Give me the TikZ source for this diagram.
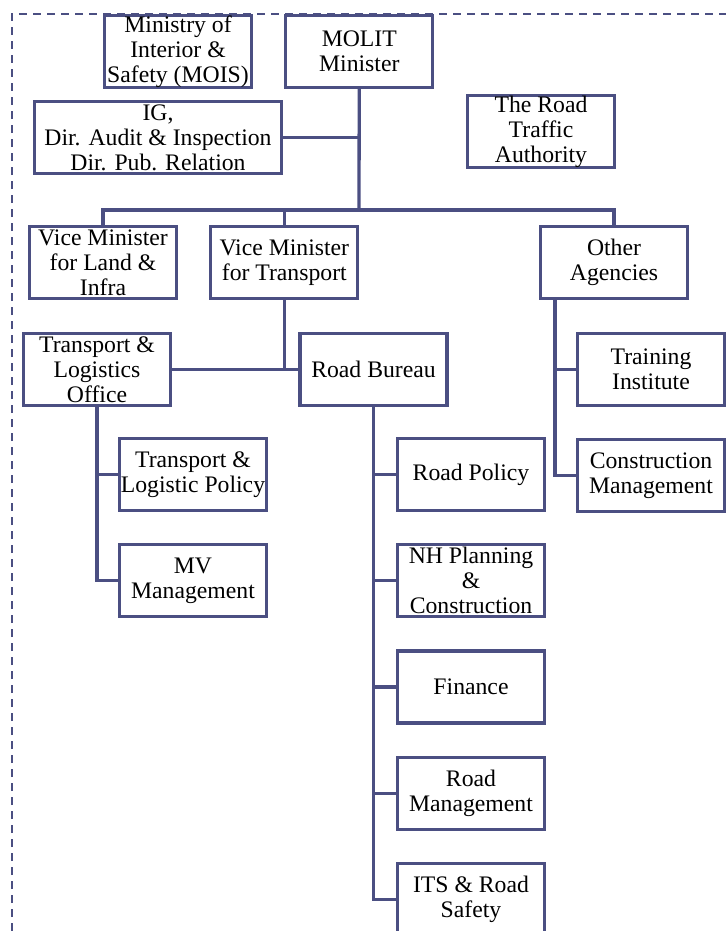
\documentclass[tikz,border=0pt]{standalone}
\usepackage{fontspec}
\setmainfont{Liberation Serif}
\usetikzlibrary{positioning}
\definecolor{orgblue}{RGB}{75,79,130}

\begin{document}
\begin{tikzpicture}[
		x=1pt, y=-1pt,
		node distance=31pt,
		unit/.style={draw=orgblue, line width=3.3pt, fill=white, minimum width=147pt, minimum height=72pt, inner sep=0pt, align=center, font=\fontsize{23.7}{25}\selectfont},
		wideunit/.style={unit, minimum width=247pt},
		link/.style={draw=orgblue, line width=3.3pt},
		frame/.style={draw=orgblue, line width=2.2pt, dash pattern=on 8pt off 6pt},
	]
		\useasboundingbox (0,0) rectangle (726,931);
		\draw[frame] (12,931) -- (12,14) -- (726,14);

		% top level
		\node (mois) [unit] at (178,51.5) {Ministry of\\Interior \&\\Safety (MOIS)};
		\node (molit) [unit, right=of mois] {MOLIT\\Minister};
		\node (ig) [wideunit] at (158,137.5) {IG,\\Dir. Audit \& Inspection\\Dir. Pub. Relation};
		\node (rta) [unit] at (541,131.5) {The Road\\Traffic\\Authority};

		% vice ministers and agencies
		\node (vml) [unit] at (103,262.5) {Vice Minister\\for Land \&\\Infra};
		\node (vmt) [unit, right=of vml] {Vice Minister\\for Transport};
		\node (other) [unit] at (614,262.5) {Other\\Agencies};

		% offices
		\node (tlo) [unit] at (97,369.5) {Transport \&\\Logistics\\Office};
		\node (rb) [unit] at (373.5,369.5) {Road Bureau};
		\node (tlp) [unit] at (193,474.5) {Transport \&\\Logistic Policy};
		\node (mv) [unit, below=of tlp] {MV\\Management};
		\node (rp) [unit] at (471,474.5) {Road Policy};
		\node (nh) [unit, below=of rp] {NH Planning\\\&\\Construction};
		\node (fin) [unit, below=of nh] {Finance};
		\node (rm) [unit, below=of fin] {Road\\Management};
		\node (its) [unit, below=of rm] {ITS \& Road\\Safety};
		\node (ti) [unit] at (651,369.5) {Training\\Institute};
		\node (cm) [unit, below=of ti] {Construction\\Management};

		% connectors
		\coordinate (bar) at (359,210);
		\coordinate (oa) at ([xshift=16pt]other.south west);
		\draw[link] (molit) -- (bar);
		\draw[link] (ig) -- (ig -| molit);
		\draw[link] (vml) |- (bar) -| (other);
		\draw[link] (vmt) -- (vmt |- bar);
		\draw[link] (vmt) -- (vmt |- rb);
		\draw[link] (tlo) -- (rb);
		\draw[link] (tlo) |- (tlp);
		\draw[link] (tlo) |- (mv);
		\foreach \n in {rp,nh,fin,rm,its}
			\draw[link] (rb) |- (\n);
		\draw[link] (oa) |- (ti);
		\draw[link] (oa) |- (cm);
\end{tikzpicture}
\end{document}
